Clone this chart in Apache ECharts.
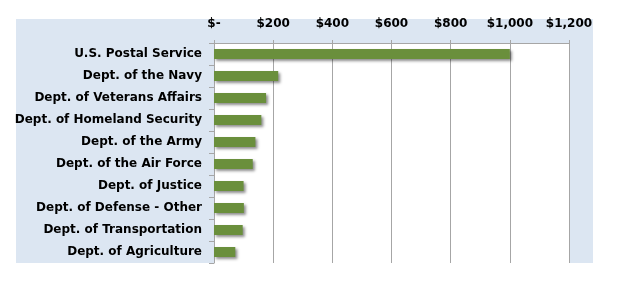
<!DOCTYPE html>
<html>
<head>
<meta charset="utf-8">
<script src="https://cdn.jsdelivr.net/npm/echarts@6/dist/echarts.min.js"></script>
<style>
  html, body { margin: 0; padding: 0; background: #fff; }
  #chart { width: 628px; height: 281px; }
</style>
</head>
<body>
<div id="chart"></div>
<script>
// agencies, top to bottom
const agencies = [
  "U.S. Postal Service",
  "Dept. of the Navy",
  "Dept. of Veterans Affairs",
  "Dept. of Homeland Security",
  "Dept. of the Army",
  "Dept. of the Air Force",
  "Dept. of Justice",
  "Dept. of Defense - Other",
  "Dept. of Transportation",
  "Dept. of Agriculture"
];
// dollar amounts
const amounts = [1000, 217, 176, 160, 140, 131, 100, 101, 97, 72];
const xTicks = [0, 200, 400, 600, 800, 1000, 1200];

const lineGray = "#a6a6a6";
const labelFont = "DejaVu Sans";

function money(v) {
  if (v === 0) return "$-";
  return "$" + v.toLocaleString("en-US");
}

const chart = echarts.init(document.getElementById("chart"));
chart.setOption({
  animation: false,
  backgroundColor: "#fff",
  graphic: [
    {
      type: "rect",
      z: -10,
      shape: { x: 16, y: 19, width: 577, height: 244 },
      style: { fill: "#dce6f2" }
    }
  ],
  grid: {
    left: 214,
    top: 43,
    width: 355,
    height: 220,
    show: true,
    backgroundColor: "#fff",
    borderWidth: 0
  },
  xAxis: {
    type: "value",
    position: "top",
    min: xTicks[0],
    max: xTicks[xTicks.length - 1],
    interval: 200,
    axisLine: { show: true, lineStyle: { color: lineGray, width: 1 } },
    axisTick: { show: true, length: 3, lineStyle: { color: lineGray } },
    splitLine: { show: true, lineStyle: { color: lineGray, width: 1 } },
    axisLabel: {
      margin: 13,
      color: "#000",
      fontFamily: labelFont,
      fontWeight: "bold",
      fontSize: 12,
      formatter: money
    }
  },
  yAxis: {
    type: "category",
    inverse: true,
    data: agencies,
    axisLine: { show: true, lineStyle: { color: lineGray, width: 1 } },
    axisTick: { show: true, length: 5, lineStyle: { color: lineGray } },
    axisLabel: {
      margin: 12,
      color: "#000",
      fontFamily: labelFont,
      fontWeight: "bold",
      fontSize: 12
    }
  },
  series: [
    {
      type: "bar",
      data: amounts,
      barWidth: 10,
      itemStyle: {
        color: "#6a8f3c",
        shadowColor: "rgba(0,0,0,0.45)",
        shadowBlur: 3,
        shadowOffsetX: 2,
        shadowOffsetY: 2
      }
    }
  ]
});
</script>
</body>
</html>
